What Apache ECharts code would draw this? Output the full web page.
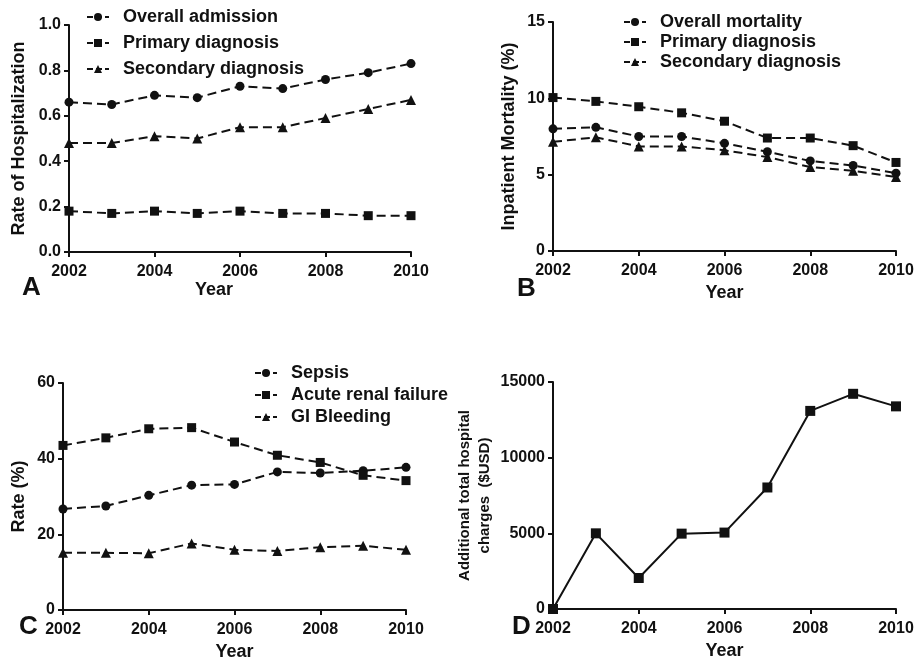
<!DOCTYPE html>
<html>
<head>
<meta charset="utf-8">
<script src="https://cdn.jsdelivr.net/npm/echarts@6/dist/echarts.min.js"></script>
<style>
	html, body { margin: 0; padding: 0; background: #fff; }
	#chart { width: 920px; height: 667px; }
</style>
</head>
<body>
<div id="chart"></div>
<script>
	// years on every x axis
	const years = [2002, 2003, 2004, 2005, 2006, 2007, 2008, 2009, 2010];

	// A - rate of hospitalization
	const admissionOverall = [0.66, 0.65, 0.69, 0.68, 0.73, 0.72, 0.76, 0.79, 0.83];
	const admissionPrimary = [0.18, 0.17, 0.18, 0.17, 0.18, 0.17, 0.17, 0.16, 0.16];
	const admissionSecondary = [0.48, 0.48, 0.51, 0.50, 0.55, 0.55, 0.59, 0.63, 0.67];

	// B - inpatient mortality (%)
	const mortalityOverall = [8.0, 8.1, 7.5, 7.5, 7.05, 6.5, 5.9, 5.6, 5.1];
	const mortalityPrimary = [10.05, 9.8, 9.45, 9.05, 8.5, 7.4, 7.4, 6.9, 5.8];
	const mortalitySecondary = [7.15, 7.45, 6.85, 6.85, 6.6, 6.15, 5.5, 5.25, 4.85];

	// C - complication rate (%)
	const sepsis = [26.7, 27.5, 30.3, 33.0, 33.2, 36.5, 36.2, 36.8, 37.7];
	const renalFailure = [43.5, 45.5, 47.9, 48.2, 44.4, 40.9, 39.0, 35.6, 34.2];
	const giBleeding = [15.1, 15.1, 15.0, 17.6, 15.9, 15.6, 16.6, 17.0, 15.9];

	// D - additional total hospital charges
	const extraCharges = [0, 5000, 2050, 4980, 5050, 8030, 13090, 14220, 13390];

	// legend labels
	const namesA = ["Overall admission", "Primary diagnosis", "Secondary diagnosis"];
	const namesB = ["Overall mortality", "Primary diagnosis ", "Secondary diagnosis "];
	const namesC = ["Sepsis", "Acute renal failure", "GI Bleeding"];

	const font = "'Liberation Sans', Arial, sans-serif";
	const ink = "#111";

	const chart = echarts.init(document.getElementById("chart"));

	const pairs = vals => years.map((y, i) => [y, vals[i]]);

	const lineSeries = (name, idx, vals, symbol, size, dashed) => ({
		name: name,
		type: "line",
		xAxisIndex: idx,
		yAxisIndex: idx,
		data: pairs(vals),
		symbol: symbol,
		symbolSize: size,
		clip: false,
		lineStyle: { color: ink, width: 2, type: dashed ? [9, 5] : "solid" },
		itemStyle: { color: ink },
		z: 3
	});

	const xAxis = idx => ({
		type: "value",
		gridIndex: idx,
		min: 2002,
		max: 2010,
		interval: 2,
		name: "Year",
		nameLocation: "middle",
		nameGap: idx === 0 ? 27 : 33,
		nameTextStyle: {
			color: ink, fontFamily: font, fontWeight: "bold", fontSize: 18,
			padding: idx === 0 ? [0, 52, 0, 0] : [0, 0, 0, 0]
		},
		axisLine: { onZero: false, lineStyle: { color: ink, width: 2 } },
		axisTick: { length: 5, lineStyle: { color: ink, width: 2 } },
		axisLabel: {
			margin: 12, color: ink, fontFamily: font, fontWeight: "bold", fontSize: 16,
			formatter: v => String(v)
		},
		splitLine: { show: false }
	});

	const yAxis = (idx, max, interval, name, gap, fmt) => ({
		type: "value",
		gridIndex: idx,
		min: 0,
		max: max,
		interval: interval,
		name: name,
		nameLocation: "middle",
		nameGap: gap,
		nameTextStyle: {
			color: ink, fontFamily: font, fontWeight: "bold",
			fontSize: idx === 3 ? 15 : 18, lineHeight: 20
		},
		axisLine: { show: true, onZero: false, lineStyle: { color: ink, width: 2 } },
		axisTick: { show: true, length: 5, lineStyle: { color: ink, width: 2 } },
		axisLabel: {
			margin: 8, color: ink, fontFamily: font, fontWeight: "bold", fontSize: 16,
			formatter: fmt
		},
		splitLine: { show: false }
	});

	const legend = (names, left, top, gap) => ({
		orient: "vertical",
		left: left,
		top: top,
		padding: 0,
		itemWidth: 22,
		itemHeight: 10,
		itemGap: gap,
		data: names,
		selectedMode: false,
		lineStyle: { type: [6, 3], width: 2 },
		textStyle: {
			color: ink, fontFamily: font, fontWeight: "bold", fontSize: 18,
			padding: [0, 0, 0, 9]
		}
	});

	const letter = (txt, x, y) => ({
		type: "text",
		left: x,
		top: y,
		style: { text: txt, fill: ink, font: "bold 26px " + font }
	});

	const option = {
		animation: false,
		backgroundColor: "#fff",
		grid: [
			{ left: 69, top: 25, width: 342, height: 227 },
			{ left: 553, top: 22, width: 343, height: 229 },
			{ left: 63, top: 383, width: 343, height: 227 },
			{ left: 553, top: 382, width: 343, height: 227 }
		],
		xAxis: [xAxis(0), xAxis(1), xAxis(2), xAxis(3)],
		yAxis: [
			yAxis(0, 1, 0.2, "Rate of Hospitalization", 40, v => v.toFixed(1)),
			yAxis(1, 15, 5, "Inpatient Mortality (%)", 34, v => String(v)),
			yAxis(2, 60, 20, "Rate (%)", 34, v => String(v)),
			yAxis(3, 15000, 5000, "Additional total hospital\ncharges  ($USD)", 58, v => String(v))
		],
		legend: [
			legend(namesA, 86, 8, 8),
			legend(namesB, 623, 13, 2),
			legend(namesC, 254, 364, 4)
		],
		graphic: [
			letter("A", 22, 275),
			letter("B", 517, 276),
			letter("C", 19, 614),
			letter("D", 512, 614)
		],
		series: [
			lineSeries(namesA[0], 0, admissionOverall, "circle", 9, true),
			lineSeries(namesA[1], 0, admissionPrimary, "rect", 9, true),
			lineSeries(namesA[2], 0, admissionSecondary, "triangle", 10, true),
			lineSeries(namesB[0], 1, mortalityOverall, "circle", 9, true),
			lineSeries(namesB[1], 1, mortalityPrimary, "rect", 9, true),
			lineSeries(namesB[2], 1, mortalitySecondary, "triangle", 10, true),
			lineSeries(namesC[0], 2, sepsis, "circle", 9, true),
			lineSeries(namesC[1], 2, renalFailure, "rect", 9, true),
			lineSeries(namesC[2], 2, giBleeding, "triangle", 10, true),
			lineSeries("Additional charges", 3, extraCharges, "rect", 10, false)
		]
	};

	chart.setOption(option);
</script>
</body>
</html>
